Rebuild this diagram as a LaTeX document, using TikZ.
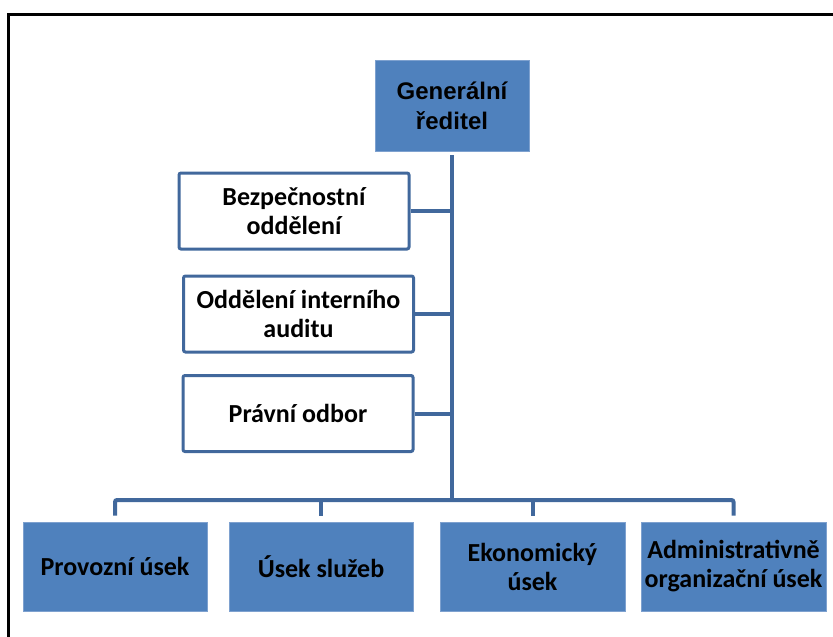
\documentclass[tikz,border=0pt]{standalone}
\usepackage{fontspec}
\setmainfont{Carlito}
\newfontfamily\arialfont{Liberation Sans}
\definecolor{boxblue}{HTML}{4F81BD}
\definecolor{edgeblue}{HTML}{41689C}
\definecolor{lightedge}{HTML}{7EA1CF}
\tikzset{
  bluebox/.style={rectangle, fill=boxblue, draw=lightedge, line width=0.8pt, align=center, inner sep=0pt, text=black},
  whitebox/.style={rectangle, fill=white, draw=edgeblue, line width=3pt, rounded corners=2pt, align=center, inner sep=0pt, minimum width=230pt, minimum height=76pt, text=black},
  conn/.style={draw=edgeblue, line width=4pt},
  cfont/.style={font=\fontsize{26}{29}\selectfont\bfseries},
  afont/.style={font=\arialfont\fontsize{24}{30}\selectfont\bfseries}
}
\begin{document}
\begin{tikzpicture}[x=1pt,y=-1pt]
\useasboundingbox (0,0) rectangle (833,637);
% frame
\draw[line width=3pt, line cap=rect] (8.5,640) -- (8.5,14.5) -- (836,14.5);
% top
\node[bluebox, afont, minimum width=154pt, minimum height=91pt] (gen) at (452,105.5) {Generální\\ředitel};
% staff boxes
\node[whitebox, cfont] (bez) at (294,211) {Bezpečnostní\\oddělení};
\node[whitebox, cfont] (aud) at (298.5,314) {Oddělení interního\\auditu};
\node[whitebox, cfont] (prav) at (298,413.5) {Právní odbor};
% bottom boxes
\node[bluebox, cfont, minimum width=184pt, minimum height=89pt] (p1) at (115,566.5) {Provozní úsek};
\node[bluebox, cfont, minimum width=184pt, minimum height=89pt] (p2) at (321,566.5) {Úsek služeb};
\node[bluebox, cfont, minimum width=185pt, minimum height=89pt] (p3) at (532.5,566.5) {Ekonomický\\úsek};
\node[bluebox, cfont, minimum width=185pt, minimum height=89pt] (p4) at (733.5,566.5) {Administrativně\\organizační úsek};
% connectors
\coordinate (bus) at (452,500);
\draw[conn] ([yshift=-4pt]gen.south) -- (bus);
\draw[conn] (bez.east) -- (bez.east -| bus);
\draw[conn] (aud.east) -- (aud.east -| bus);
\draw[conn] (prav.east) -- (prav.east -| bus);
\draw[conn, rounded corners=2pt] ([yshift=6pt]p1.north) -- (bus -| p1.north) -- (bus -| p4.north) -- ([yshift=6pt]p4.north);
\draw[conn] (bus -| p2.north) -- ([yshift=6pt]p2.north);
\draw[conn] (bus -| p3.north) -- ([yshift=6pt]p3.north);
\end{tikzpicture}
\end{document}
